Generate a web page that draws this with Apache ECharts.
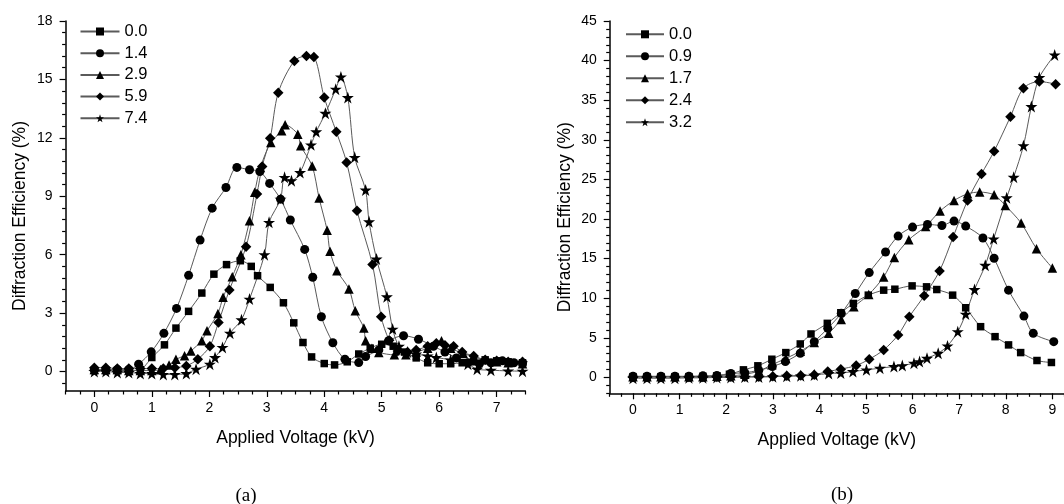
<!DOCTYPE html>
<html><head><meta charset="utf-8">
<script src="https://cdn.jsdelivr.net/npm/echarts@6/dist/echarts.min.js"></script>
<style>html,body{margin:0;padding:0;background:#fff}#c{width:1064px;height:504px}</style>
</head><body><div id="c"></div>
<script>
// ---------- tick labels ----------
const legendA = ['0.0','1.4','2.9','5.9','7.4'];
const legendB = ['0.0','0.9','1.7','2.4','3.2'];
const xTicksA = [0,1,2,3,4,5,6,7];
const yTicksA = [0,3,6,9,12,15,18];
const xTicksB = [0,1,2,3,4,5,6,7,8,9];
const yTicksB = [0,5,10,15,20,25,30,35,40,45];

// ---------- panel (a) data [voltage kV, efficiency %] ----------
const a00 = [[0,0.05],[0.2,0.05],[0.4,0.05],[0.6,0.05],[0.8,0.1],[1.0,0.72],[1.22,1.37],[1.42,2.23],[1.64,3.09],[1.87,4.03],[2.08,5.0],[2.30,5.49],[2.54,5.69],[2.73,5.40],[2.84,4.92],[3.06,4.32],[3.29,3.53],[3.47,2.50],[3.63,1.49],[3.78,0.75],[4.0,0.41],[4.18,0.34],[4.4,0.5],[4.6,0.9],[4.8,1.2],[5.0,1.4],[5.2,1.3],[5.4,1.0],[5.6,0.7],[5.8,0.45],[6.0,0.4],[6.2,0.4],[6.4,0.45],[6.6,0.5],[6.8,0.6],[7.0,0.55],[7.2,0.5],[7.45,0.45]];
const a14 = [[0,0.1],[0.2,0.1],[0.4,0.1],[0.6,0.1],[0.77,0.38],[0.99,1.01],[1.21,1.96],[1.43,3.24],[1.64,4.94],[1.84,6.75],[2.05,8.39],[2.29,9.45],[2.48,10.48],[2.70,10.36],[2.88,10.27],[3.05,9.66],[3.24,8.85],[3.41,7.78],[3.66,6.27],[3.80,4.84],[3.95,2.81],[4.15,1.48],[4.36,0.63],[4.60,0.46],[4.72,0.77],[4.95,1.11],[5.12,1.58],[5.38,1.84],[5.64,1.66],[5.9,1.3],[6.1,1.0],[6.3,0.7],[6.5,0.45],[6.7,0.4],[6.9,0.45],[7.1,0.55],[7.3,0.45],[7.45,0.4]];
const a29 = [[0,0.1],[0.2,0.1],[0.4,0.1],[0.6,0.05],[0.8,0.05],[1.0,0.05],[1.15,0.1],[1.30,0.34],[1.42,0.63],[1.57,0.81],[1.68,1.06],[1.87,1.58],[1.96,2.09],[2.15,2.98],[2.24,3.81],[2.40,4.87],[2.55,6.0],[2.70,7.74],[2.79,9.2],[2.89,10.48],[3.07,11.76],[3.26,12.36],[3.32,12.67],[3.54,12.19],[3.59,11.59],[3.79,10.56],[3.91,8.91],[4.05,7.26],[4.10,6.17],[4.22,5.18],[4.43,4.24],[4.54,3.12],[4.69,2.23],[4.72,1.58],[4.83,1.2],[4.95,0.98],[5.22,0.86],[5.42,0.86],[5.6,1.0],[5.8,1.2],[6.04,1.58],[6.2,1.2],[6.42,0.93],[6.6,0.75],[6.8,0.6],[7.0,0.5],[7.2,0.45],[7.45,0.4]];
const a59 = [[0,0.2],[0.2,0.2],[0.4,0.15],[0.6,0.15],[0.8,0.15],[1.0,0.15],[1.2,0.15],[1.4,0.2],[1.6,0.29],[1.8,0.63],[2.01,1.30],[2.16,2.52],[2.35,4.19],[2.64,6.41],[2.83,9.11],[2.92,10.53],[3.06,11.98],[3.20,14.32],[3.48,15.95],[3.69,16.2],[3.82,16.15],[4.0,14.07],[4.21,12.31],[4.39,10.74],[4.57,8.26],[4.84,5.49],[4.99,2.81],[5.13,1.61],[5.28,1.06],[5.45,1.0],[5.6,1.1],[5.8,1.3],[5.95,1.45],[6.1,1.35],[6.25,1.3],[6.4,1.0],[6.6,0.8],[6.8,0.6],[7.0,0.55],[7.2,0.5],[7.45,0.5]];
const a74 = [[0,0.0],[0.2,0.0],[0.4,-0.05],[0.6,-0.05],[0.8,-0.1],[1.0,-0.1],[1.2,-0.15],[1.4,-0.15],[1.6,-0.1],[1.77,0.12],[2.01,0.38],[2.10,0.72],[2.23,1.24],[2.36,1.97],[2.56,2.66],[2.70,3.72],[2.96,6.0],[3.04,7.66],[3.24,8.85],[3.31,9.97],[3.43,9.80],[3.58,10.22],[3.77,11.64],[3.86,12.31],[4.02,13.26],[4.20,14.5],[4.29,15.13],[4.41,14.07],[4.53,11.0],[4.72,9.32],[4.78,7.69],[4.91,5.78],[5.09,3.84],[5.19,2.18],[5.3,1.3],[5.45,1.0],[5.6,0.9],[5.8,0.8],[5.95,0.72],[6.2,0.6],[6.5,0.38],[6.66,0.12],[6.9,0.07],[7.2,0.03],[7.45,0.02]];

// ---------- panel (b) data ----------
const b00 = [[0,0.1],[0.3,0.1],[0.6,0.1],[0.9,0.1],[1.2,0.1],[1.5,0.15],[1.8,0.2],[2.07,0.4],[2.37,0.96],[2.68,1.47],[2.98,2.3],[3.28,3.14],[3.59,4.23],[3.82,5.49],[4.17,6.83],[4.46,8.17],[4.73,9.34],[5.05,10.39],[5.38,11.02],[5.62,11.14],[5.99,11.56],[6.30,11.44],[6.52,11.10],[6.86,10.39],[7.14,8.80],[7.46,6.41],[7.77,5.15],[8.06,4.11],[8.32,3.14],[8.67,2.14],[8.98,1.89]];
const b09 = [[0,0.15],[0.3,0.15],[0.6,0.15],[0.9,0.15],[1.2,0.15],[1.5,0.2],[1.8,0.25],[2.1,0.5],[2.4,0.6],[2.7,0.9],[2.99,1.38],[3.27,2.0],[3.59,3.06],[3.89,4.52],[4.18,6.2],[4.47,8.09],[4.77,10.6],[5.07,13.24],[5.42,15.84],[5.69,17.85],[6.0,18.98],[6.32,19.32],[6.63,19.19],[6.89,19.74],[7.14,19.11],[7.51,17.6],[7.75,15.05],[8.06,11.02],[8.39,7.75],[8.59,5.57],[9.03,4.52]];
const b17 = [[0,0.1],[0.3,0.1],[0.6,0.1],[0.9,0.1],[1.2,0.1],[1.5,0.1],[1.8,0.15],[2.1,0.2],[2.4,0.4],[2.7,0.8],[2.98,1.6],[3.28,2.4],[3.59,3.3],[3.89,4.4],[4.2,5.57],[4.47,7.33],[4.74,8.92],[5.06,10.47],[5.38,12.69],[5.61,15.15],[5.92,17.39],[6.28,19.07],[6.59,21.0],[6.89,22.34],[7.18,23.18],[7.44,23.4],[7.75,23.05],[7.99,21.71],[8.33,19.49],[8.66,16.25],[9.0,13.82]];
const b24 = [[0,0.05],[0.3,0.05],[0.6,0.05],[0.9,0.05],[1.2,0.05],[1.5,0.05],[1.8,0.05],[2.1,0.1],[2.4,0.1],[2.7,0.1],[3.0,0.15],[3.3,0.2],[3.6,0.25],[3.89,0.35],[4.18,0.75],[4.46,1.05],[4.79,1.51],[5.07,2.3],[5.38,3.48],[5.69,5.36],[5.93,7.67],[6.25,10.31],[6.58,13.45],[6.87,17.72],[7.18,22.34],[7.48,25.7],[7.75,28.55],[8.10,32.91],[8.38,36.52],[8.72,37.36],[9.07,37.03]];
const b32 = [[0,-0.1],[0.3,-0.1],[0.6,-0.1],[0.9,-0.1],[1.2,-0.05],[1.5,-0.05],[1.8,0.0],[2.1,0.0],[2.4,0.05],[2.7,0.05],[3.0,0.1],[3.3,0.15],[3.6,0.2],[3.89,0.3],[4.2,0.5],[4.46,0.55],[4.72,0.75],[5.01,0.96],[5.3,1.17],[5.6,1.38],[5.78,1.5],[6.03,1.8],[6.15,2.0],[6.31,2.43],[6.55,3.06],[6.75,3.98],[6.97,5.78],[7.14,8.0],[7.33,11.1],[7.56,14.16],[7.74,17.5],[8.02,22.68],[8.17,25.28],[8.38,29.26],[8.55,34.21],[8.72,37.87],[9.05,40.72]];

// ---------- minor tick positions ----------
const xMinorA = [], yMinorA = [], xMinorB = [], yMinorB = [];
for (let i = -2; i <= 30; i++) if (i % 4 !== 0) xMinorA.push(i / 4);
for (let i = -1; i <= 30; i++) if (i % 5 !== 0) yMinorA.push(Math.round(i * 6) / 10);
for (let i = -2; i <= 37; i++) if (i % 4 !== 0) xMinorB.push(i / 4);
for (let i = -2; i <= 45; i++) if (i % 5 !== 0) yMinorB.push(i);

const STAR = 'path://M50,0 L61.8,35.3 L98.9,35.3 L68.9,57.3 L80.3,92.7 L50,70.8 L19.7,92.7 L31.1,57.3 L1.1,35.3 L38.2,35.3 Z';
const SYM = [['rect',7.5],['circle',9],['triangle',9.5],['diamond',10.5],[STAR,12]];
const FONT = 'Liberation Sans';
const BLACK = '#000';

function majorAxis(grid, min, max, ticks, isX, extra) {
  return Object.assign({
    type: 'value', gridIndex: grid, min: min, max: max,
    position: isX ? 'bottom' : 'left',
    axisLine: { show: true, onZero: false, lineStyle: { color: BLACK, width: 1.5 } },
    axisTick: { show: true, inside: false, length: 6, customValues: ticks, lineStyle: { color: BLACK, width: 1.2 } },
    axisLabel: { show: true, customValues: ticks, color: BLACK, fontSize: 14, fontFamily: FONT, margin: isX ? 10 : 13 },
    splitLine: { show: false },
    nameLocation: 'middle'
  }, extra || {});
}
function minorAxis(grid, min, max, ticks, isX) {
  return {
    type: 'value', gridIndex: grid, min: min, max: max,
    position: isX ? 'bottom' : 'left', offset: 0,
    axisLine: { show: false, onZero: false },
    axisTick: { show: true, inside: false, length: 3.5, customValues: ticks, lineStyle: { color: BLACK, width: 1.2 } },
    axisLabel: { show: false },
    splitLine: { show: false }
  };
}
const xName = { color: BLACK, fontSize: 17.5, fontFamily: FONT };
const yName = { color: BLACK, fontSize: 17.5, fontFamily: FONT, padding: [0, 20, 0, 0] };

const seriesA = [a00, a14, a29, a59, a74];
const seriesB = [b00, b09, b17, b24, b32];
const series = [];
function addSeries(list, names, xi, yi) {
  list.forEach((d, k) => {
    series.push({
      type: 'line', name: names[k], data: d, xAxisIndex: xi, yAxisIndex: yi,
      symbol: SYM[k][0], symbolSize: SYM[k][1], smooth: 0.3,
      lineStyle: { color: '#5a5a5a', width: 1 },
      itemStyle: { color: BLACK, borderWidth: 0 },
      emphasis: { disabled: true }, animation: false, clip: false, z: 3
    });
  });
}
addSeries(seriesA, legendA, 0, 0);
addSeries(seriesB, legendB, 2, 2);

const legendText = { color: BLACK, fontSize: 16.5, fontFamily: FONT };
const option = {
  backgroundColor: '#fff',
  animation: false,
  grid: [
    { left: 65.6, top: 21, right: 538.6, bottom: 113 },
    { left: 609.7, top: 21, right: 0, bottom: 110.7 }
  ],
  xAxis: [
    majorAxis(0, -0.5, 7.5, xTicksA, true, { name: 'Applied Voltage (kV)', nameGap: 38, nameTextStyle: xName }),
    minorAxis(0, -0.5, 7.5, xMinorA, true),
    majorAxis(1, -0.5, 9.25, xTicksB, true, { name: 'Applied Voltage (kV)', nameGap: 38, nameTextStyle: xName }),
    minorAxis(1, -0.5, 9.25, xMinorB, true)
  ],
  yAxis: [
    majorAxis(0, -1, 18, yTicksA, false, { name: 'Diffraction Efficiency (%)', nameGap: 36, nameTextStyle: yName }),
    minorAxis(0, -1, 18, yMinorA, false),
    majorAxis(1, -2, 45, yTicksB, false, { name: 'Diffraction Efficiency (%)', nameGap: 36, nameTextStyle: yName }),
    minorAxis(1, -2, 45, yMinorB, false)
  ],
  legend: [
    { data: legendA, orient: 'vertical', left: 79.5, top: 23, padding: 0, itemWidth: 39, itemHeight: 10, itemGap: 4.7,
      selectedMode: false, textStyle: legendText },
    { data: legendB, orient: 'vertical', left: 625, top: 25.8, padding: 0, itemWidth: 38, itemHeight: 10, itemGap: 5,
      selectedMode: false, textStyle: legendText }
  ],
  graphic: [
    { type: 'text', x: 246, y: 496, style: { text: '(a)', align: 'center', verticalAlign: 'middle', fontSize: 19, fontFamily: 'Liberation Serif', fill: BLACK } },
    { type: 'text', x: 842, y: 495, style: { text: '(b)', align: 'center', verticalAlign: 'middle', fontSize: 19, fontFamily: 'Liberation Serif', fill: BLACK } }
  ],
  series: series
};
const chart = echarts.init(document.getElementById('c'), null, { renderer: 'canvas' });
chart.setOption(option);
</script></body></html>
